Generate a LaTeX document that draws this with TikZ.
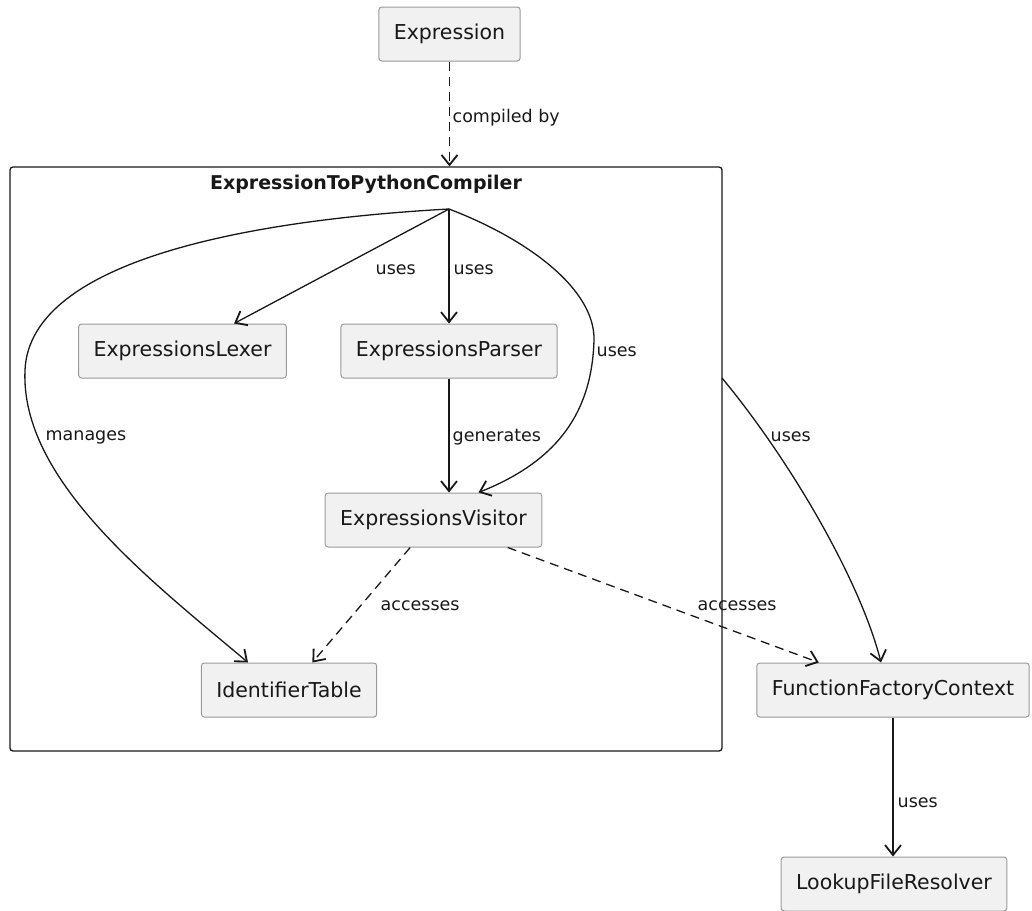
\documentclass[tikz,border=0pt]{standalone}
\usepackage{fontspec}
\setmainfont{DejaVu Sans}
\usetikzlibrary{arrows.meta}
\definecolor{edgecol}{HTML}{181818}
\definecolor{boxfill}{HTML}{F1F1F1}
\definecolor{boxline}{HTML}{9A9A9A}
\tikzset{
  cls/.style={draw=boxline, fill=boxfill, line width=1pt, rounded corners=3pt,
    minimum height=54pt, inner xsep=15pt, font=\fontsize{20.5}{24}\selectfont, text=edgecol},
  pkg/.style={draw=edgecol, line width=1.3pt, rounded corners=3pt},
  conn/.style={draw=edgecol, line width=1.3pt, -{Straight Barb[length=10pt,width=16pt,line width=1.8pt]}},
  dep/.style={conn, dash pattern=on 9pt off 6pt},
  lbl/.style={anchor=west, inner sep=0pt, font=\fontsize{17.5}{21}\selectfont, text=edgecol, solid},
  ttl/.style={inner sep=0pt, font=\fontsize{19}{23}\selectfont\bfseries, text=edgecol}
}
\begin{document}
\begin{tikzpicture}[x=1pt, y=-1pt]
\useasboundingbox (0,0) rectangle (1032,910);
% cluster
\node[pkg, minimum width=712pt, minimum height=584pt] (cluster) at (366,459) {};
\node[ttl] (title) at (366,184) {ExpressionToPythonCompiler};
\coordinate (hub) at (449,209);
\coordinate (cr) at (722,378);
% nodes
\node[cls] (expr) at (449.5,34) {Expression};
\node[cls] (lexer) at (182.5,351) {ExpressionsLexer};
\node[cls] (parser) at (449,351) {ExpressionsParser};
\node[cls] (visitor) at (433.5,520) {ExpressionsVisitor};
\node[cls] (idt) at (289,690) {IdentifierTable};
\node[cls] (ffc) at (893,690) {FunctionFactoryContext};
\node[cls] (lfr) at (894,884) {LookupFileResolver};
% connectors
\draw[dep] (expr) -- (expr |- cluster.north) node[lbl, at={(452,118)}] {compiled by};
\draw[conn] (hub) -- (lexer) node[lbl, at={(375,270)}] {uses};
\draw[conn] (hub) -- (parser) node[lbl, at={(453,270)}] {uses};
\draw[conn] (hub) .. controls (530,240) and (595,290) .. (594,340)
  .. controls (592,410) and (560,460) .. ([xshift=45pt]visitor.north)
  node[lbl, at={(596,352)}] {uses};
\draw[conn] (hub) .. controls (250,220) and (30,260) .. (25,370)
  .. controls (20,480) and (150,580) .. ([xshift=-41pt]idt.north)
  node[lbl, at={(45,437)}] {manages};
\draw[conn] (parser.south) -- (parser.south |- visitor.north) node[lbl, at={(452,437)}] {generates};
\draw[dep] (visitor) -- (idt) node[lbl, at={(380,606)}] {accesses};
\draw[dep] (visitor) -- (ffc) node[lbl, at={(697,606)}] {accesses};
\draw[conn] (cr) .. controls (790,460) and (860,580) .. ([xshift=-12pt]ffc.north)
  node[lbl, at={(770,437)}] {uses};
\draw[conn] (ffc.south) -- (ffc.south |- lfr.north) node[lbl, at={(897,803)}] {uses};
\end{tikzpicture}
\end{document}
